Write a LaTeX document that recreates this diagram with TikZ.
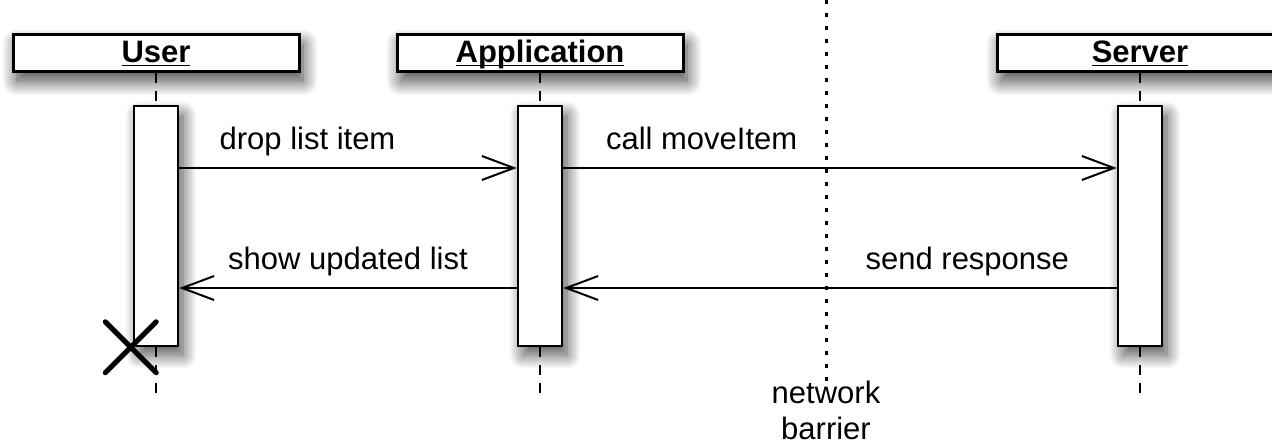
\documentclass[tikz,border=0pt]{standalone}
\usepackage{fontspec}
\setmainfont{Liberation Sans}
\usetikzlibrary{positioning}
\usetikzlibrary{arrows.meta}
\usetikzlibrary{shapes.misc}
\usetikzlibrary{shadows.blur}
\newcommand{\diagfont}{\fontsize{15.5pt}{18pt}\selectfont}
\newcommand{\headtext}[1]{\underline{\smash{#1}\vphantom{U}}}
\tikzset{
  lifehead/.style={draw, line width=1.5pt, fill=white, minimum width=143pt, minimum height=18.5pt, inner sep=0pt,
    text height=11.2pt, text depth=2.2pt, font=\diagfont\bfseries,
    blur shadow={shadow xshift=2pt, shadow yshift=-4.5pt, shadow blur radius=7.5pt, shadow blur steps=25, shadow opacity=75}},
  actbox/.style={draw, line width=1.25pt, fill=white, minimum width=22pt, minimum height=120pt, inner sep=0pt,
    blur shadow={shadow xshift=2.5pt, shadow yshift=-4.5pt, shadow blur radius=7pt, shadow blur steps=25, shadow opacity=70}},
  lifeline/.style={line width=1.2pt, dash pattern=on 5pt off 4pt},
  msg/.style={line width=1pt, -{Straight Barb[length=16pt, width=12pt, line width=1pt]}},
  msglabel/.style={inner sep=0pt, text height=11pt, text depth=3.5pt, above=5.5pt},
}
\begin{document}
\begin{tikzpicture}[x=0.5pt, y=-0.5pt, font=\diagfont]
\clip (0,0) rectangle (1272,444);
% lifeline heads
\node[lifehead] (user) at (156,53.5) {\headtext{User}};
\node[lifehead] (app) at (540,53.5) {\headtext{Application}};
\node[lifehead] (server) at (1140,53.5) {\headtext{Server}};
% activations
\node[actbox] (userAct) at (156,226) {};
\node[actbox] (appAct) at (540,226) {};
\node[actbox] (serverAct) at (1140,226) {};
% lifelines
\coordinate (userEnd) at (156,396);
\coordinate (appEnd) at (540,396);
\coordinate (serverEnd) at (1140,396);
\draw[lifeline] (user) -- (userAct);
\draw[lifeline] (app) -- (appAct);
\draw[lifeline] (server) -- (serverAct);
\draw[lifeline] (userAct) -- (userEnd);
\draw[lifeline] (appAct) -- (appEnd);
\draw[lifeline] (serverAct) -- (serverEnd);
% network barrier
\coordinate (barTop) at (826,0);
\node[align=center] (barrier) at (826,410) {network\\barrier};
\draw[line width=1.5pt, dash pattern=on 2pt off 4.5pt, shorten >=-5.5pt] (barTop) -- (barrier.north);
% messages
\draw[msg] ([yshift=29pt]userAct.east) -- node[msglabel, pos=0.38] {drop list item} ([yshift=29pt]appAct.west);
\draw[msg] ([yshift=29pt]appAct.east) -- node[msglabel, pos=0.25] {call moveItem} ([yshift=29pt]serverAct.west);
\draw[msg] ([yshift=-31pt]serverAct.west) -- node[msglabel, pos=0.27] {send response} ([yshift=-31pt]appAct.east);
\draw[msg] ([yshift=-31pt]appAct.west) -- node[msglabel, pos=0.5] {show updated list} ([yshift=-31pt]userAct.east);
% user destroyed
\node[cross out, draw, line width=2.5pt, line cap=round, minimum size=23pt, inner sep=0pt] (stopX) at ([xshift=-1pt]userAct.south west) {};
\end{tikzpicture}
\end{document}
